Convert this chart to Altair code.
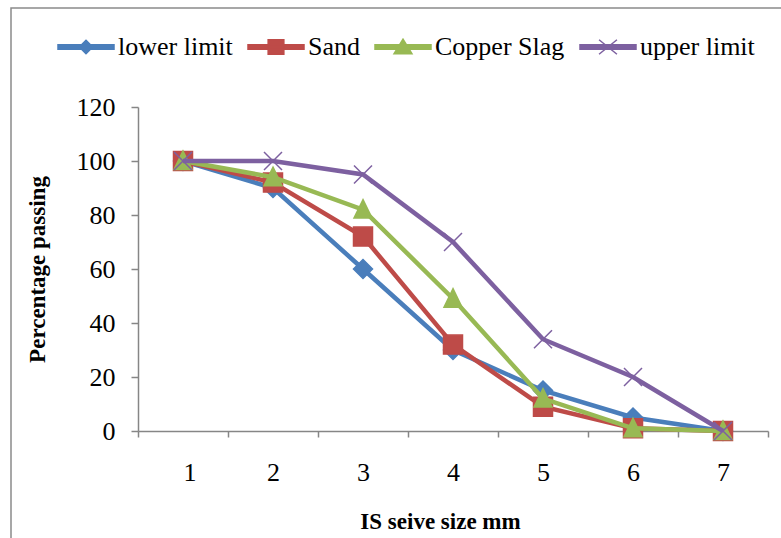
import altair as alt
import pandas as pd

# ---- data ----
sieve_sizes = [1, 2, 3, 4, 5, 6, 7]
series_names = ["lower limit", "Sand", "Copper Slag", "upper limit"]
lower_limit = [100, 90, 60, 30, 15, 5, 0]
sand = [100, 92, 72, 32, 9, 1, 0]
copper_slag = [100, 94, 82, 49, 12, 1, 0]
upper_limit = [100, 100, 95, 70, 34, 20, 0]
y_ticks = [0, 20, 40, 60, 80, 100, 120]
x_tick_bounds = [0.5, 1.5, 2.5, 3.5, 4.5, 5.5, 6.5, 7.5]

colors = ["#4A7EBB", "#BE4B48", "#98B954", "#7D60A0"]

# marker shapes for the plot (unit = half marker size)
marker_paths = [
    "M0,-0.95L0.95,0L0,0.95L-0.95,0Z",
    "M-0.95,-0.95H0.95V0.95H-0.95Z",
    "M0,-1L0.9,0.85H-0.9Z",
    "M-0.9,-0.9L0.9,0.9M-0.9,0.9L0.9,-0.9",
]
# legend symbols: line segment + marker
leg_line = "M-1,-0.08H1V0.08H-1Z"
legend_paths = [
    leg_line + "M0,-0.24L0.24,0L0,0.24L-0.24,0Z",
    leg_line + "M-0.28,-0.26H0.28V0.26H-0.28Z",
    leg_line + "M0,-0.28L0.32,0.24H-0.32Z",
    leg_line + "M-0.32,-0.26L0.32,0.26M-0.32,0.26L0.32,-0.26",
]

values = [lower_limit, sand, copper_slag, upper_limit]
rows = []
for name, vals in zip(series_names, values):
    for s, v in zip(sieve_sizes, vals):
        rows.append({"size": s, "pct": v, "series": name})
df = pd.DataFrame(rows)

FONT = "Liberation Serif"
AXIS_GRAY = "#868686"

x_enc = alt.X(
    "size:Q",
    scale=alt.Scale(domain=[0.5, 7.5], nice=False, zero=False),
    axis=alt.Axis(
        values=x_tick_bounds,
        labelExpr="datum.value < 7 ? format(datum.value + 0.5, 'd') : ''",
        labelOffset=45,
        grid=False,
        domainColor=AXIS_GRAY,
        tickColor=AXIS_GRAY,
        domainWidth=1.5,
        tickWidth=1.5,
        tickSize=6,
        labelFont=FONT,
        labelFontSize=26,
        labelColor="black",
        labelPadding=22,
        title="IS seive size mm",
        titleFont=FONT,
        titleFontSize=23,
        titleFontWeight="bold",
        titleColor="black",
        titleX=302,
        titlePadding=25,
    ),
)
y_enc = alt.Y(
    "pct:Q",
    scale=alt.Scale(domain=[0, 120], nice=False),
    axis=alt.Axis(
        values=y_ticks,
        grid=False,
        domainColor=AXIS_GRAY,
        tickColor=AXIS_GRAY,
        domainWidth=1.5,
        tickWidth=1.5,
        tickSize=7,
        labelFont=FONT,
        labelFontSize=26,
        labelColor="black",
        labelPadding=16,
        title="Percentage passing",
        titleFont=FONT,
        titleFontSize=23,
        titleFontWeight="bold",
        titleColor="black",
        titlePadding=27,
    ),
)

layers = []

# chart-area border
border = alt.Chart(alt.Data(values=[{}])).mark_rect(
    fillOpacity=0, stroke="#8A8A8A", strokeWidth=1.5
).encode(
    x=alt.value(-127), x2=alt.value(800), y=alt.value(-99), y2=alt.value(600)
)
layers.append(border)

for name, c, path in zip(series_names, colors, marker_paths):
    base = alt.Chart(df).transform_filter(alt.datum.series == name)
    line = base.mark_line(color=c, strokeWidth=4.5).encode(x=x_enc, y=y_enc)
    pts = base.mark_point(
        shape=path, filled=True, fill=c, stroke=c, strokeWidth=1.5, size=400, opacity=1
    ).encode(x=x_enc, y=y_enc)
    layers += [line, pts]

legend_spec = alt.Legend(
    title=None,
    orient="none",
    legendX=-81,
    legendY=-89,
    direction="horizontal",
    symbolSize=3136,
    symbolStrokeWidth=1.5,
    symbolOpacity=1,
    labelFont=FONT,
    labelFontSize=26,
    labelColor="black",
    labelOffset=3,
    labelLimit=400,
    columnPadding=12,
    padding=0,
)
legend_layer = alt.Chart(df).transform_filter("false").mark_point(filled=True, opacity=1).encode(
    x=x_enc,
    y=y_enc,
    color=alt.Color("series:N", scale=alt.Scale(domain=series_names, range=colors), legend=legend_spec),
    stroke=alt.Stroke("series:N", scale=alt.Scale(domain=series_names, range=colors), legend=legend_spec),
    shape=alt.Shape("series:N", scale=alt.Scale(domain=series_names, range=legend_paths), legend=legend_spec),
)
layers.append(legend_layer)

chart = alt.layer(*layers).properties(
    width=630,
    height=324,
    autosize=alt.AutoSizeParams(type="none"),
    padding={"left": 138, "top": 107, "right": 13, "bottom": 107},
    background="white",
).configure_view(
    stroke=None
).configure_legend(
    labelFont=FONT, labelFontSize=26, labelColor="black", symbolOpacity=1
).configure_axis(
    labelFont=FONT, titleFont=FONT
)

chart.save("out.html", embed_options={"renderer": "svg", "actions": False})
